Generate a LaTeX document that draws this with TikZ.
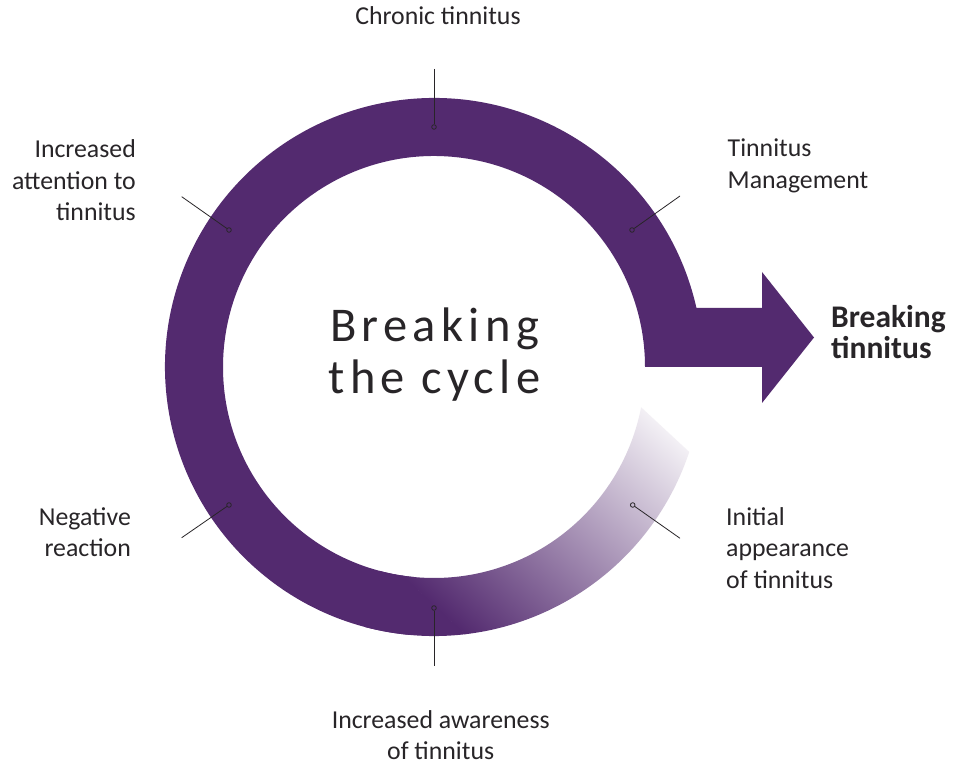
\documentclass[tikz,border=0pt]{standalone}
\usepackage{fontspec}
\setmainfont{Carlito}
\newfontfamily\bigfont[LetterSpace=11]{Carlito}
\definecolor{ringc}{RGB}{83,42,111}
\definecolor{txtc}{RGB}{40,37,40}
\begin{document}
\begin{tikzpicture}[x=1pt,y=1pt,
  lbl/.style={font=\fontsize{25.8}{31.6}\selectfont, text=txtc, inner sep=0pt},
  boldlbl/.style={font=\bfseries\fontsize{31.5}{31}\selectfont, text=txtc, inner sep=0pt},
  bigtxt/.style={font=\bigfont\fontsize{48.5}{51.6}\selectfont, text=txtc, inner sep=0pt},
  dotmark/.style={circle, draw=txtc, line width=0.8pt, inner sep=0pt, minimum size=4.6pt},
  leader/.style={draw=txtc, line width=0.8pt},
  fadecanvas/.style={transform canvas={shift={(455,142)},rotate=47}}]
\useasboundingbox (0,0) rectangle (957,767);
\fill[white] (0,0) rectangle (957,767);
% solid ring with arrow
\begin{scope}[shift={(434,400)}]
\fill[ringc] (12.67:269) arc[start angle=12.67,end angle=265,radius=269]
  -- (265:211) arc[start angle=265,end angle=0,radius=211]
  -- (328,0) -- (328,-36) -- (380,29.5) -- (328,95) -- (328,59) -- cycle;
\end{scope}
% fading part of the ring
\begin{scope}
\clip ([shift={(434,400)}]255:269) arc[start angle=255,end angle=341.6,radius=269]
  -- ([shift={(434,400)}]349:211) arc[start angle=349,end angle=255,radius=211] -- cycle;
\fill[ringc, fadecanvas] (-400,-400) rectangle (0.5,400);
\shade[left color=ringc, right color=white, fadecanvas] (0,-400) rectangle (308,400);
\fill[white, fadecanvas] (307.5,-400) rectangle (500,400);
\end{scope}
% centre text
\node[bigtxt, align=center, anchor=base] (title) at (434.5,373.7) {Breaking\\the cycle};
% labels
\node[lbl, anchor=base, align=center] (chronic) at (438,742) {Chronic tinnitus};
\node[lbl, anchor=base east, align=right] (attn) at (136,546.3) {Increased\\attention to\\tinnitus};
\node[lbl, anchor=base west, align=left] (mgmt) at (727.5,578.7) {Tinnitus\\Management};
\node[boldlbl, anchor=base west, align=left] (brk) at (831,408.7) {Breaking\\tinnitus};
\node[lbl, anchor=base east, align=right] (neg) at (131,210.3) {Negative\\reaction};
\node[lbl, anchor=base west, align=left] (init) at (726,178.7) {Initial\\appearance\\of tinnitus};
\node[lbl, anchor=base, align=center] (aware) at (440.7,7) {Increased awareness\\of tinnitus};
% markers and leaders
\node[dotmark] (d1) at (434,640) {};
\coordinate (e1) at (434,698);
\node[dotmark] (d2) at (229,537) {};
\coordinate (e2) at (181.7,570.3);
\node[dotmark] (d3) at (632,537) {};
\coordinate (e3) at (680,571);
\node[dotmark] (d4) at (229,262) {};
\coordinate (e4) at (181.7,229.3);
\node[dotmark] (d5) at (632.7,262) {};
\coordinate (e5) at (680,228.7);
\node[dotmark] (d6) at (434,159) {};
\coordinate (e6) at (434,101);
\foreach \i in {1,...,6} {\draw[leader] (e\i) -- (d\i);}
\end{tikzpicture}
\end{document}
